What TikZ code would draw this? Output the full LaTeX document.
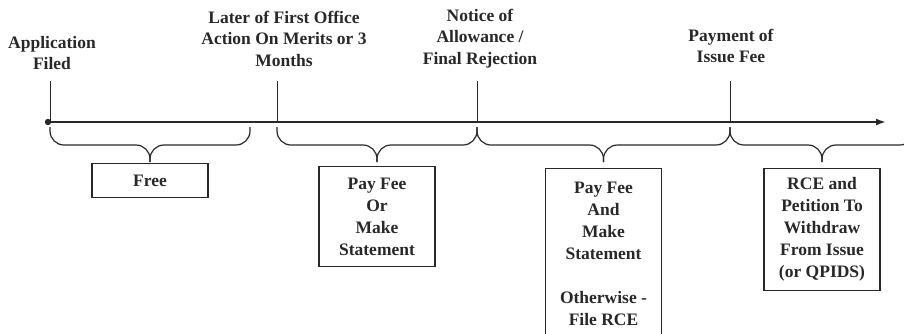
\documentclass[tikz,border=0pt]{standalone}
\usepackage{fontspec}
\setmainfont{Liberation Serif}
\usepackage{tikz}
\usetikzlibrary{arrows.meta,positioning}
\definecolor{inkgray}{RGB}{40,40,40}

\begin{document}
\begin{tikzpicture}[x=1pt,y=-1pt,
  lbl/.style={font=\fontsize{17.5}{21.5}\selectfont\bfseries,align=center,inner sep=0pt,text=inkgray},
  optbox/.style={draw=inkgray,line width=1.2pt,font=\fontsize{17.5}{22}\selectfont\bfseries,
    align=center,minimum width=116pt,inner sep=2pt,text=inkgray},
  tick/.style={inkgray,line width=1pt},
  bracepath/.style={inkgray,line width=1.2pt,rounded corners=14pt}]
  \useasboundingbox (0,0) rectangle (904,333);
  % ---- timeline
  \coordinate (start) at (48,122);
  \coordinate (end) at (886,122);
  \draw[inkgray,line width=1.8pt,-{Latex[length=10pt,width=7pt]}] (start) -- (end);
  \fill[inkgray] (start) circle (3.2pt);
  % ---- events
  \node[lbl] (filed) at (52,53) {Application\\Filed};
  \node[lbl] (action) at (284,38.5) {Later of First Office\\Action On Merits or 3\\Months};
  \node[lbl] (notice) at (480,38.5) {Notice of\\Allowance /\\Final Rejection};
  \node[lbl] (issue) at (731,46) {Payment of\\Issue Fee};
  \foreach \x/\n in {50/filed,277/action,477/notice,730/issue} {
    \coordinate (t-\n) at (\x,81);
    \draw[tick] (t-\n) -- ++(0,40);
  }
  % ---- braces
  \foreach \a/\b/\n in {50/250/free,277/477/either,477/730/both,730/914/late} {
    \pgfmathsetmacro{\m}{(\a+\b)/2}
    \draw[bracepath] (\a,127) |- (\m,145) -- (\m,162);
    \draw[bracepath] (\b,127) |- (\m,145) -- (\m,162);
    \coordinate (tip-\n) at (\m,162);
  }
  % ---- options
  \node[optbox,minimum height=34pt,below=1pt of tip-free] (free) {Free};
  \node[optbox,minimum height=100pt,below=4pt of tip-either] (either) {Pay Fee\\Or\\Make\\Statement};
  \node[optbox,minimum height=170pt,below=6pt of tip-both] (both) {Pay Fee\\And\\Make\\Statement\\[22pt]Otherwise -\\File RCE};
  \node[optbox,minimum height=122pt,below=6pt of tip-late] (late) {RCE and\\Petition To\\Withdraw\\From Issue\\(or QPIDS)};
\end{tikzpicture}
\end{document}
